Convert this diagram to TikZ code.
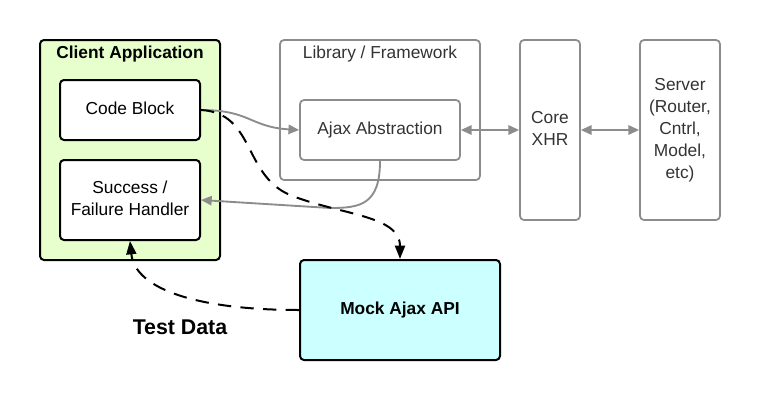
\documentclass[tikz,border=0pt]{standalone}
\usepackage{fontspec}
\setmainfont{Liberation Sans}
\usetikzlibrary{arrows.meta,positioning}
\definecolor{clientgreen}{RGB}{230,255,204}
\definecolor{mockcyan}{RGB}{204,255,255}
\definecolor{libgray}{RGB}{140,140,140}
\newcommand{\stacked}[1]{\begin{tabular}{@{}c@{}}#1\end{tabular}}
\begin{document}
\begin{tikzpicture}[x=0.75pt,y=-0.75pt,
    font=\fontsize{13}{16.5}\selectfont,
    box/.style={draw, rounded corners=3pt, line width=1.5pt, inner sep=0pt, align=center},
    libbox/.style={box, draw=libgray, line width=1.3pt, text=black!80},
    greyarrow/.style={libgray, line width=1.4pt, -{Triangle[length=8pt,width=7pt]}},
    greyboth/.style={libgray, line width=1.4pt, {Triangle[length=8pt,width=7pt]}-{Triangle[length=8pt,width=7pt]}},
    mockarrow/.style={black, line width=1.5pt, dash pattern=on 10pt off 7pt, -{Triangle[length=10pt,width=7.5pt]}}]
    \useasboundingbox (0,0) rectangle (760,400);
    \node (client) [box, fill=clientgreen, minimum width=135pt, minimum height=165pt] at (130,150) {};
    \node (clienttitle) [font=\fontsize{13}{16}\selectfont\bfseries] at (130,54) {Client Application};
    \node (code) [box, fill=white, minimum width=105pt, minimum height=45pt] at (130,110) {\raisebox{2pt}{Code Block}};
    \node (handler) [box, fill=white, minimum width=105pt, minimum height=60pt] at (130,200) {\raisebox{2pt}{\stacked{Success /\\Failure Handler}}};
    \node (lib) [libbox, minimum width=150pt, minimum height=105pt] at (380,110) {};
    \node (libtitle) [text=black!80] at (380,54) {Library / Framework};
    \node (ajax) [libbox, minimum width=120pt, minimum height=45pt] at (380,130) {\raisebox{2pt}{Ajax Abstraction}};
    \node (core) [libbox, minimum width=45pt, minimum height=135pt] at (550,130) {\raisebox{3pt}{\stacked{Core\\XHR}}};
    \node (server) [libbox, minimum width=60pt, minimum height=135pt] at (680,130) {\raisebox{3.5pt}{\stacked{Server\\(Router,\\Cntrl,\\Model,\\etc)}}};
    \node (mock) [box, fill=mockcyan, minimum width=150pt, minimum height=75pt, font=\fontsize{13}{16}\selectfont\bfseries] at (400,310) {Mock Ajax API};
    \node (testdata) [font=\fontsize{16}{19}\selectfont\bfseries] at (180,327) {Test Data};
    \draw[greyarrow] (code.east) .. controls (250,110) and (250,127) .. (ajax.west);
    \draw[greyarrow] (ajax.south) .. controls (380,205) and (360,208) .. (330,208) -- (handler.east);
    \draw[greyboth] (ajax.east) -- (core.west);
    \draw[greyboth] (core.east) -- (server.west);
    \draw[mockarrow] (code.east) .. controls (255,113) and (243,175) .. (290,195) .. controls (340,215) and (400,215) .. (mock.north);
    \draw[mockarrow] (mock.west) .. controls (200,310) and (135,290) .. (handler.south);
\end{tikzpicture}
\end{document}
